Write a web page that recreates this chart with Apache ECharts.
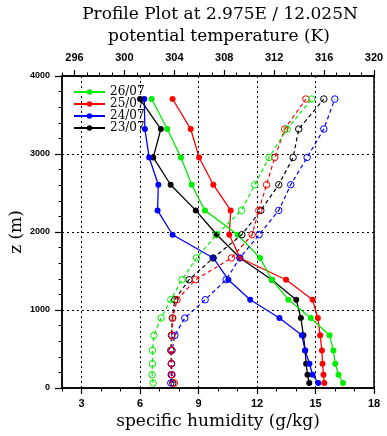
<!DOCTYPE html>
<html>
<head>
<meta charset="utf-8">
<script src="https://cdn.jsdelivr.net/npm/echarts@6/dist/echarts.min.js"></script>
<style>
html, body { margin: 0; padding: 0; background: #fff; }
#chart { width: 387px; height: 436px; }
</style>
</head>
<body>
<div id="chart"></div>
<script>
// Model level heights (m), bottom to top
const heights = [64, 170, 311, 482, 675, 897, 1132, 1388, 1667, 1965, 2277, 2606, 2956, 3320, 3705];

// Specific humidity (g/kg) per day
const q23 = [14.68, 14.59, 14.52, 14.47, 14.38, 14.25, 14.01, 12.76, 11.13, 9.94, 8.86, 7.57, 6.68, 7.07, 6.00];
const q24 = [15.14, 14.85, 14.69, 14.47, 14.30, 13.15, 11.65, 10.53, 9.76, 7.67, 6.90, 6.94, 6.47, 6.25, 6.22];
const q25 = [15.45, 15.41, 15.36, 15.33, 15.24, 15.12, 14.85, 13.49, 11.13, 10.58, 10.65, 9.76, 9.03, 8.60, 7.67];
const q26 = [16.41, 16.18, 16.01, 15.92, 15.72, 14.76, 13.61, 12.76, 12.16, 11.01, 9.33, 8.65, 8.10, 7.40, 6.60];

// Potential temperature (K) per day
const th23 = [303.88, 303.76, 303.76, 303.72, 303.77, 303.84, 304.04, 305.18, 307.11, 309.41, 310.93, 312.37, 313.52, 313.97, 315.98];
const th24 = [303.72, 303.77, 303.77, 303.82, 304.04, 304.84, 306.47, 308.15, 309.25, 310.79, 312.37, 313.33, 314.64, 315.98, 316.86];
const th25 = [304.00, 303.82, 303.77, 303.77, 303.82, 303.88, 304.22, 305.70, 308.58, 310.23, 310.77, 311.39, 312.05, 312.85, 314.54];
const th26 = [302.30, 302.22, 302.25, 302.25, 302.36, 302.94, 303.72, 304.62, 305.78, 307.38, 309.38, 310.45, 311.59, 313.04, 315.00];

const days = ['23/07', '24/07', '25/07', '26/07'];
const legendOrder = ['26/07', '25/07', '24/07', '23/07'];
const dayColors = ['#000000', '#0000ff', '#ff0000', '#00ee00'];

// Axis tick labels
const qTicks = [3, 6, 9, 12, 15, 18];
const thTicks = [296, 300, 304, 308, 312, 316, 320];

const humidity = [q23, q24, q25, q26];
const theta = [th23, th24, th25, th26];

const toPairs = (vals) => vals.map((v, i) => [v, heights[i]]);

const black = '#000';
const dotted = { color: black, width: 1, type: [2, 3] };
const tickFont = { fontFamily: 'Liberation Sans', fontWeight: 'bold', color: black };
const titleFont = '17px "DejaVu Serif"';

const series = [];
days.forEach((d, k) => {
  series.push({
    type: 'line', name: d, xAxisIndex: 0, yAxisIndex: 0,
    data: toPairs(humidity[k]),
    symbol: 'circle', symbolSize: 6,
    lineStyle: { color: dayColors[k], width: 1.3 },
    itemStyle: { color: dayColors[k] },
    z: 3
  });
});
days.forEach((d, k) => {
  series.push({
    type: 'line', name: 'theta ' + d, xAxisIndex: 1, yAxisIndex: 0,
    data: toPairs(theta[k]),
    symbol: 'circle', symbolSize: 6.5,
    lineStyle: { color: dayColors[k], width: 1.2, type: [4, 3] },
    itemStyle: { color: 'rgba(0,0,0,0)', borderColor: dayColors[k], borderWidth: 1 },
    z: 4
  });
});

const chart = echarts.init(document.getElementById('chart'), null, { renderer: 'canvas' });
chart.setOption({
  animation: false,
  backgroundColor: '#fff',
  grid: [
    { left: 62, top: 76, width: 312, height: 312, show: true, borderColor: black, borderWidth: 1.5, backgroundColor: 'transparent' },
    { left: 62, top: 76, width: 312, height: 312 }
  ],
  legend: {
    data: legendOrder,
    orient: 'vertical',
    left: 73, top: 86, padding: 0,
    itemWidth: 31, itemHeight: 7, itemGap: 0,
    selectedMode: false,
    textStyle: { fontFamily: 'DejaVu Serif', fontSize: 12, color: black, lineHeight: 12 }
  },
  xAxis: [
    {
      type: 'value', gridIndex: 0, position: 'bottom', min: 2, max: 18,
      axisLine: { show: true, lineStyle: { color: black, width: 1.5 } },
      axisTick: { show: true, inside: false, length: 6, customValues: qTicks, lineStyle: { color: black, width: 1.2 } },
      axisLabel: { show: true, customValues: qTicks, margin: 10, fontSize: 11, ...tickFont },
      splitLine: { show: true, lineStyle: dotted }
    },
    {
      type: 'value', gridIndex: 0, position: 'top', min: 295, max: 320,
      axisLine: { show: true, lineStyle: { color: black, width: 1.5 } },
      axisTick: { show: true, inside: false, length: 6, customValues: thTicks, lineStyle: { color: black, width: 1.2 } },
      axisLabel: { show: true, customValues: thTicks, margin: 13, fontSize: 11, ...tickFont },
      splitLine: { show: false }
    },
    {
      type: 'value', gridIndex: 1, position: 'bottom', min: 2, max: 18, interval: 1,
      axisLine: { show: false },
      axisTick: { show: true, inside: false, length: 3.5, lineStyle: { color: black, width: 1 } },
      axisLabel: { show: false }, splitLine: { show: false }
    },
    {
      type: 'value', gridIndex: 1, position: 'top', min: 295, max: 320, interval: 1,
      axisLine: { show: false },
      axisTick: { show: true, inside: false, length: 3.5, lineStyle: { color: black, width: 1 } },
      axisLabel: { show: false }, splitLine: { show: false }
    }
  ],
  yAxis: [
    {
      type: 'value', gridIndex: 0, min: 0, max: 4000, interval: 1000,
      axisLine: { show: true, lineStyle: { color: black, width: 1.5 } },
      axisTick: { show: true, inside: false, length: 7, lineStyle: { color: black, width: 1.2 } },
      axisLabel: { show: true, margin: 12, fontSize: 9, formatter: (v) => String(v), ...tickFont },
      splitLine: { show: true, lineStyle: dotted }
    },
    {
      type: 'value', gridIndex: 1, min: 0, max: 4000, interval: 200,
      axisLine: { show: false },
      axisTick: { show: true, inside: false, length: 3.5, lineStyle: { color: black, width: 1 } },
      axisLabel: { show: false }, splitLine: { show: false }
    }
  ],
  graphic: [
    { type: 'text', x: 220, y: 15, style: { text: 'Profile Plot at 2.975E / 12.025N', font: titleFont, fill: black, textAlign: 'center', textVerticalAlign: 'middle' } },
    { type: 'text', x: 219, y: 37, style: { text: 'potential temperature (K)', font: titleFont, fill: black, textAlign: 'center', textVerticalAlign: 'middle' } },
    { type: 'text', x: 218, y: 422, style: { text: 'specific humidity (g/kg)', font: titleFont, fill: black, textAlign: 'center', textVerticalAlign: 'middle' } },
    { type: 'text', x: 17, y: 232, rotation: Math.PI / 2, style: { text: 'z (m)', font: titleFont, fill: black, textAlign: 'center', textVerticalAlign: 'middle' } }
  ],
  series: series
});
</script>
</body>
</html>
